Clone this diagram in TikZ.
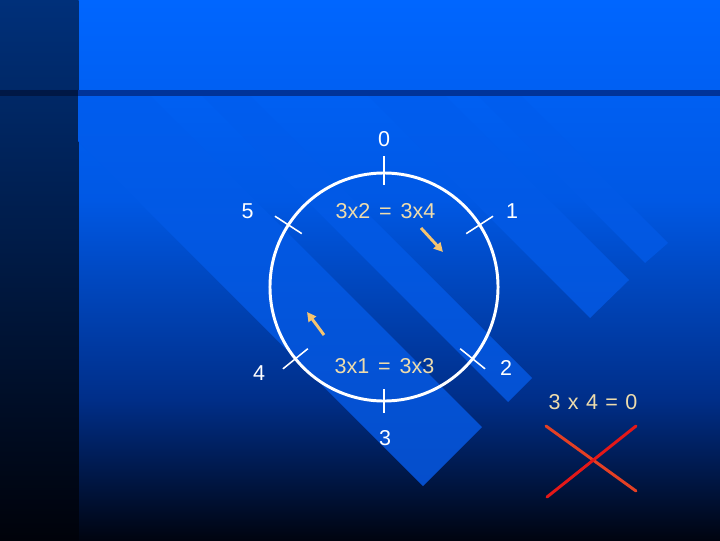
\documentclass[tikz,border=0pt]{standalone}
\usepackage{fontspec}
\setmainfont{Liberation Sans}
\usepackage{tikz}
\usetikzlibrary{arrows.meta}
\definecolor{bgtop}{RGB}{0,102,255}
\definecolor{bgmid}{RGB}{0,88,228}
\definecolor{bglow}{RGB}{0,46,136}
\definecolor{bgbot}{RGB}{0,4,16}
\definecolor{striptop}{RGB}{0,48,122}
\definecolor{stripbot}{RGB}{0,2,10}
\definecolor{bandtop}{RGB}{0,93,239}
\definecolor{bandbot}{RGB}{6,76,198}
\definecolor{eqtan}{RGB}{238,220,172}
\definecolor{arrowtan}{RGB}{245,196,112}
\definecolor{xorange}{RGB}{228,64,36}
\definecolor{xred}{RGB}{228,24,24}

\tikzset{
  digit/.style={text=white,font=\fontsize{15.3}{18}\selectfont,inner sep=0pt},
  eqn/.style={text=eqtan,font=\fontsize{15.3}{18}\selectfont,inner sep=0pt},
  tick/.style={white,line width=1.1pt},
  turn/.style={arrowtan,line width=2.1pt,-{Triangle[length=6.5pt,width=6.5pt]}},
}

\begin{document}
\begin{tikzpicture}[x=0.025cm,y=-0.025cm]
        \useasboundingbox (0,0) rectangle (720,540);

        % slide background
        \shade[top color=bgtop, bottom color=bgmid] (78,0) rectangle (720,201);
        \shade[top color=bgmid, bottom color=bglow] (78,200) rectangle (720,401);
        \shade[top color=bglow, bottom color=bgbot] (78,400) rectangle (720,540);
        \shade[top color=striptop, bottom color=stripbot] (0,0) rectangle (78.5,540);

        % diagonal bands
        \begin{scope}
          \clip (78,96) rectangle (720,540);
          \clip (423,486) -- (482,427) -- (-118,-173) -- (-177,-114) -- cycle
                (508,402) -- (532,378) -- (-68,-222) -- (-92,-198) -- cycle
                (590,318) -- (629,280) -- (29,-320) -- (-10,-282) -- cycle
                (645,263) -- (668,243) -- (68,-357) -- (45,-337) -- cycle;
          \shade[top color=bandtop, bottom color=bandbot] (78,96) rectangle (720,540);
        \end{scope}

        % title rule
        \fill[fill={rgb,255:red,0;green,24;blue,69}] (0,90) rectangle (78,96);
        \fill[fill={rgb,255:red,0;green,51;blue,153}] (78,90) rectangle (720,96);

        % clock of residues mod 6
        \coordinate (c) at (384,287);
        \draw[white,line width=2.1pt] (c) circle (2.85cm);
        \draw[tick] (c) ++(90:2.55cm) -- ++(90:0.72cm);
        \draw[tick] (c) ++(33:2.45cm) -- ++(33:0.8cm);
        \draw[tick] (c) ++(-39:2.45cm) -- ++(-39:0.8cm);
        \draw[tick] (c) ++(-90:2.55cm) -- ++(-90:0.6cm);
        \draw[tick] (c) ++(-141:2.45cm) -- ++(-141:0.8cm);
        \draw[tick] (c) ++(147:2.45cm) -- ++(147:0.8cm);

        \node[digit] (n0) at (384,139.5) {0};
        \node[digit] (n1) at (512,211) {1};
        \node[digit] (n2) at (506,367.5) {2};
        \node[digit] (n3) at (385,438) {3};
        \node[digit] (n4) at (259,373) {4};
        \node[digit] (n5) at (247.5,211) {5};

        \node[eqn] (e24) at (385.5,211) {3x2\hspace{2pt} = \hspace{2pt}3x4};
        \node[eqn] (e13) at (384.5,366) {3x1\hspace{2pt} = \hspace{2pt}3x3};

        % direction arrows
        \coordinate (a1) at (421,228);
        \coordinate (b1) at (443,252);
        \coordinate (a2) at (324,335);
        \coordinate (b2) at (307,312);
        \draw[turn] (a1) -- (b1);
        \draw[turn] (a2) -- (b2);

        % crossed out
        \node[eqn] (e0) at (593,402) {3\hspace{1pt} x\hspace{1pt} 4\hspace{1pt} =\hspace{1pt} 0};
        \draw[xorange,line width=2.1pt,line cap=round] (546,426) -- (636,491);
        \draw[xred,line width=2.1pt,line cap=round] (547,497) -- (636,426);
\end{tikzpicture}
\end{document}
